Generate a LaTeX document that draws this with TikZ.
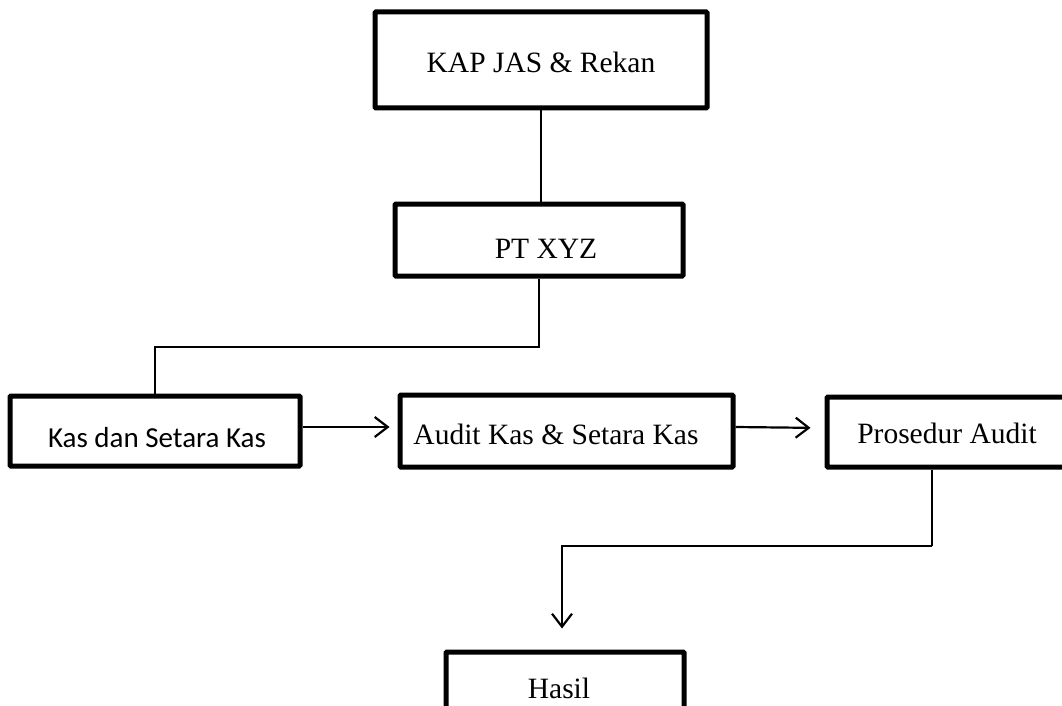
\documentclass[tikz,border=0pt]{standalone}
\usepackage{fontspec}
\setmainfont{Liberation Serif}
\newfontfamily\calibrifont{Carlito}
\usetikzlibrary{arrows.meta}
\begin{document}
\begin{tikzpicture}[x=1pt,y=-1pt,
  box/.style={draw=black, line width=5pt, rounded corners=1pt, inner sep=0pt, fill=none},
  txt/.style={anchor=base, inner sep=0pt, font=\fontsize{29.5}{34}\selectfont},
  link/.style={draw=black, line width=1.6pt},
  arr/.style={draw=black, line width=2.2pt, -{Straight Barb[length=13pt,width=20pt,line width=2.2pt]}}]
\clip (0,0) rectangle (1062,706);
\fill[white] (0,0) rectangle (1062,706);
% boxes
\node[box, minimum width=332pt, minimum height=96pt] (kap) at (541,60) {};
\node[box, minimum width=288pt, minimum height=72pt] (pt) at (539,240) {};
\node[box, minimum width=290pt, minimum height=70pt] (kas) at (155,431) {};
\node[box, minimum width=333pt, minimum height=72pt] (audit) at (566.5,431) {};
\node[box, minimum width=280pt, minimum height=70pt] (pros) at (967,432) {};
\node[box, minimum width=238pt, minimum height=110pt] (hasil) at (565,707) {};
% texts
\node[txt] (kapT) at (541,73) {KAP JAS \& Rekan};
\node[txt] (ptT) at (546,258) {PT XYZ};
\node[txt, font=\calibrifont\fontsize{29}{34}\selectfont] (kasT) at (157,447) {Kas dan Setara Kas};
\node[txt] (auditT) at (556,444) {Audit Kas \& Setara Kas};
\node[txt] (prosT) at (947,443) {Prosedur Audit};
\node[txt] (hasilT) at (559,698) {Hasil};
% connectors
\coordinate (c1) at (540,347);
\coordinate (c2) at (932,546);
\draw[link] (kap.south) -- (kap.south |- pt.north);
\draw[link] (pt.south) -- (pt.south |- c1) -| (kas.north);
\draw[arr, shorten >=8pt] ([yshift=4pt]kas.east) -- ([yshift=4pt]audit.west);
\draw[arr, shorten >=14pt] ([yshift=4pt]audit.east) -- ([yshift=4pt]pros.west);
\draw[link] (pros.south -| c2) -- (c2);
\draw[arr, line width=1.8pt, shorten >=21pt] (c2) -| ([xshift=-3pt]hasil.north);
\end{tikzpicture}
\end{document}
